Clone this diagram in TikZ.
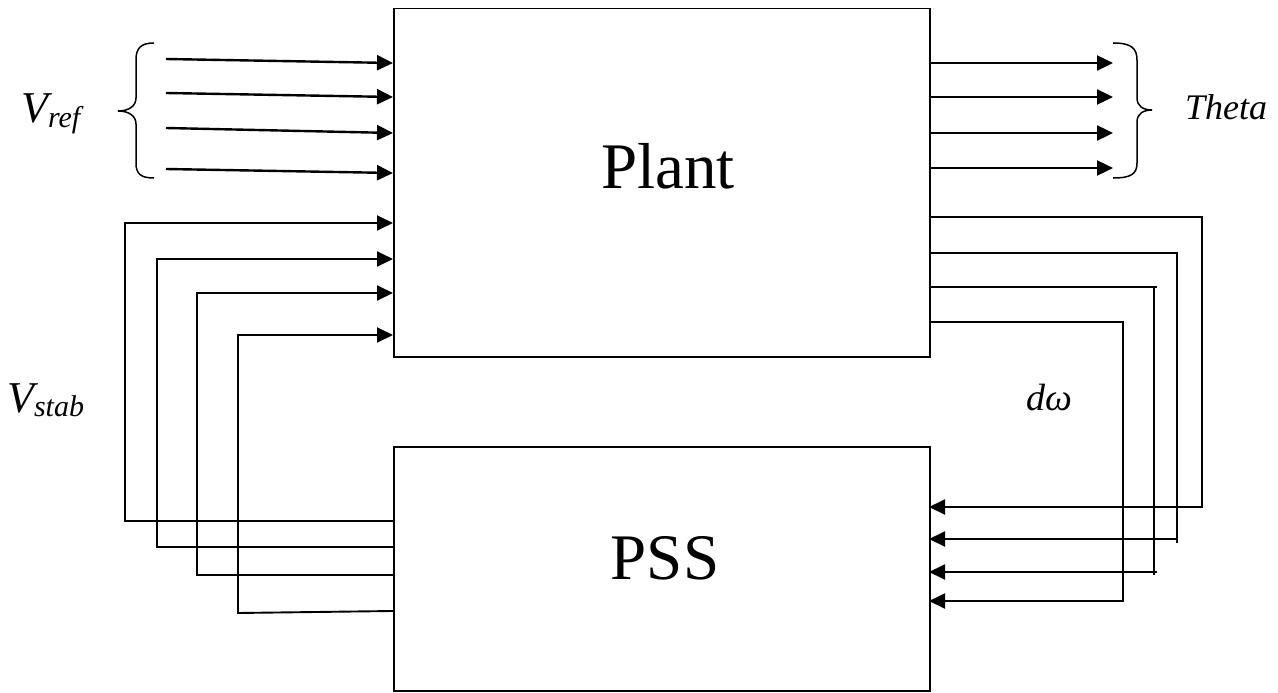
\documentclass[tikz,border=0pt]{standalone}
\usepackage{fontspec}
\setmainfont{Liberation Serif}
\usetikzlibrary{arrows.meta}
\begin{document}
\begin{tikzpicture}[x=1pt,y=-1pt,
  blockbox/.style={draw,line width=1.5pt,rectangle,inner sep=0pt,anchor=north west},
  sig/.style={line width=2.4pt,-{Triangle[length=16pt,width=15pt]}},
  fb/.style={line width=1.9pt},
  fbarrow/.style={line width=1.9pt,-{Triangle[length=16pt,width=15pt]}},
  bracepath/.style={line width=1.5pt},
  bigtext/.style={font=\fontsize{65}{65}\selectfont,anchor=base,inner sep=0pt},
  lbl/.style={font=\fontsize{44}{44}\selectfont\itshape,anchor=base west,inner sep=0pt}
]
\useasboundingbox (0,0) rectangle (1278,693);

% blocks
\node[blockbox,minimum width=536pt,minimum height=348pt] (plant) at (393,8) {};
\node[blockbox,minimum width=536pt,minimum height=244pt] (pss) at (393,446) {};
\node[bigtext] (plantlbl) at (668,188) {Plant};
\node[bigtext] (psslbl) at (665,579) {PSS};

% reference inputs
\coordinate (r1) at (166,59);  \coordinate (r1e) at (393,63);
\coordinate (r2) at (166,93);  \coordinate (r2e) at (393,97);
\coordinate (r3) at (166,128); \coordinate (r3e) at (393,133);
\coordinate (r4) at (166,169); \coordinate (r4e) at (393,173);
\draw[sig] (r1) -- (r1e);
\draw[sig] (r2) -- (r2e);
\draw[sig] (r3) -- (r3e);
\draw[sig] (r4) -- (r4e);
\draw[bracepath] (154,43) .. controls (141,43) and (136,48) .. (136,60) -- (136,98)
  .. controls (136,106) and (129,111) .. (118,111)
  .. controls (129,111) and (136,116) .. (136,124) -- (136,163)
  .. controls (136,174) and (141,178) .. (154,178);
\node[lbl] (vref) at (21,122) {V\raisebox{-5pt}{\fontsize{30}{30}\selectfont ref}};

% angle outputs
\coordinate (t1) at (929,63);  \coordinate (t1e) at (1113,63);
\coordinate (t2) at (929,97);  \coordinate (t2e) at (1113,97);
\coordinate (t3) at (929,133); \coordinate (t3e) at (1113,133);
\coordinate (t4) at (929,168); \coordinate (t4e) at (1113,168);
\draw[sig] (t1) -- (t1e);
\draw[sig] (t2) -- (t2e);
\draw[sig] (t3) -- (t3e);
\draw[sig] (t4) -- (t4e);
\draw[bracepath] (1113,43) .. controls (1131,43) and (1137,48) .. (1137,60) -- (1137,98)
  .. controls (1137,106) and (1143,110) .. (1152,110)
  .. controls (1143,110) and (1137,114) .. (1137,122) -- (1137,163)
  .. controls (1137,174) and (1131,178) .. (1113,178);
\node[lbl,font=\fontsize{36}{36}\selectfont\itshape] (theta) at (1185,120) {Theta};

% stabilising signals: PSS -> Plant
\coordinate (s1) at (393,521); \coordinate (p1) at (393,223);
\coordinate (s2) at (393,547); \coordinate (p2) at (393,259);
\coordinate (s3) at (393,575); \coordinate (p3) at (393,293);
\coordinate (s4) at (393,611); \coordinate (p4) at (393,335);
\draw[fbarrow] (s1) -- (125,521) -- (125,223) -- (p1);
\draw[fbarrow] (s2) -- (157,547) -- (157,259) -- (p2);
\draw[fbarrow] (s3) -- (197,575) -- (197,293) -- (p3);
\draw[fbarrow] (s4) -- (238,613) -- (238,335) -- (p4);
\node[lbl] (vstab) at (7,412) {V\raisebox{-4pt}{\fontsize{30}{30}\selectfont stab}};

% speed deviations: Plant -> PSS
\coordinate (o1) at (929,217); \coordinate (i1) at (929,507);
\coordinate (o2) at (929,253); \coordinate (i2) at (929,539);
\coordinate (o3) at (929,287); \coordinate (i3) at (929,572);
\coordinate (o4) at (929,322); \coordinate (i4) at (929,601);
\draw[fbarrow] (o1) -- (1202,217) -- (1202,507) -- (i1);
\draw[fb] (o2) -- (1177,253) -- (1177,543);
\draw[fbarrow] (1177,539) -- (i2);
\draw[fb] (o3) -- (1157,287) (1154,287) -- (1154,575);
\draw[fbarrow] (1157,572) -- (i3);
\draw[fbarrow] (o4) -- (1123,322) -- (1123,601) -- (i4);
\node[font=\fontsize{38}{38}\selectfont\itshape,anchor=base,inner sep=0pt] (dw) at (1049,410) {dω};

\end{tikzpicture}
\end{document}
